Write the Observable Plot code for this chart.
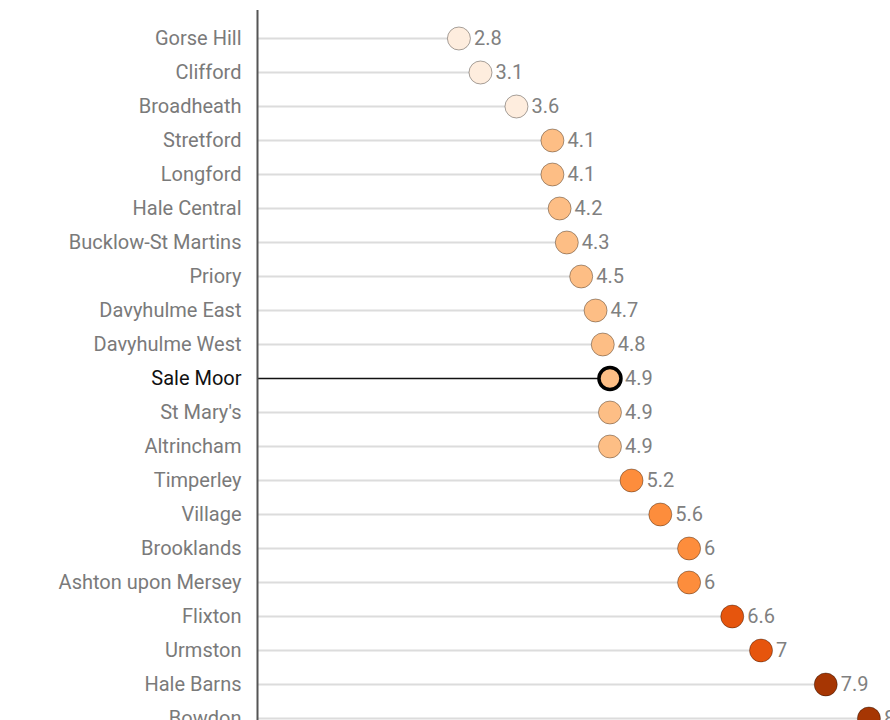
<!DOCTYPE html>
<html>
<head>
<meta charset="utf-8">
<script src="https://cdn.jsdelivr.net/npm/d3@7"></script>
<script src="https://cdn.jsdelivr.net/npm/@observablehq/plot@0.6"></script>
<style>
  html, body { margin: 0; padding: 0; background: #fff; }
  #chart { width: 890px; height: 720px; overflow: hidden; }
  svg { font-family: Roboto, sans-serif; }
</style>
</head>
<body>
<div id="chart"></div>
<script>
const wards = ["Gorse Hill","Clifford","Broadheath","Stretford","Longford","Hale Central","Bucklow-St Martins","Priory","Davyhulme East","Davyhulme West","Sale Moor","St Mary's","Altrincham","Timperley","Village","Brooklands","Ashton upon Mersey","Flixton","Urmston","Hale Barns","Bowdon"];
const values = [2.8,3.1,3.6,4.1,4.1,4.2,4.3,4.5,4.7,4.8,4.9,4.9,4.9,5.2,5.6,6,6,6.6,7,7.9,8.5];
const highlight = "Sale Moor";
const colorThresholds = [4, 5, 6.5, 7.5];
const colorRange = ["#feedde", "#fdbe85", "#fd8d3c", "#e6550d", "#a63603"];

const data = wards.map((w, i) => ({ward: w, value: values[i], hi: w === highlight}));
const normal = data.filter(d => !d.hi);
const hiData = data.filter(d => d.hi);

const chart = Plot.plot({
  width: 890,
  height: 720,
  marginLeft: 257,
  marginRight: 0,
  marginTop: 10,
  marginBottom: 0,
  style: {fontFamily: "Roboto, sans-serif", fontSize: "20px", overflow: "visible"},
  x: {domain: [0, 8.8], axis: null},
  y: {type: "point", domain: wards, padding: 0, insetTop: 26, insetBottom: 1, axis: null},
  color: {type: "threshold", domain: colorThresholds, range: colorRange},
  marks: [
    Plot.ruleY(normal, {y: "ward", x1: 0, x2: "value", stroke: "#dcdcdc", strokeWidth: 2}),
    Plot.ruleY(hiData, {y: "ward", x1: 0, x2: "value", stroke: "#111", strokeWidth: 1.5}),
    Plot.ruleX([0], {stroke: "#555", strokeWidth: 2}),
    Plot.dot(normal, {x: "value", y: "ward", r: 11.5, fill: d => d.value, stroke: "rgba(0,0,0,0.35)", strokeWidth: 1}),
    Plot.dot(hiData, {x: "value", y: "ward", r: 11, fill: d => d.value, stroke: "#000", strokeWidth: 3.5}),
    Plot.text(data, {x: "value", y: "ward", text: d => String(d.value), dx: 15, textAnchor: "start", fill: "#808080", fontSize: 20}),
    Plot.text(data, {x: 0, y: "ward", text: "ward", dx: -16, textAnchor: "end", fill: d => d.hi ? "#111" : "#7a7a7a", fontSize: 20})
  ]
});
document.getElementById("chart").appendChild(chart);
</script>
</body>
</html>
